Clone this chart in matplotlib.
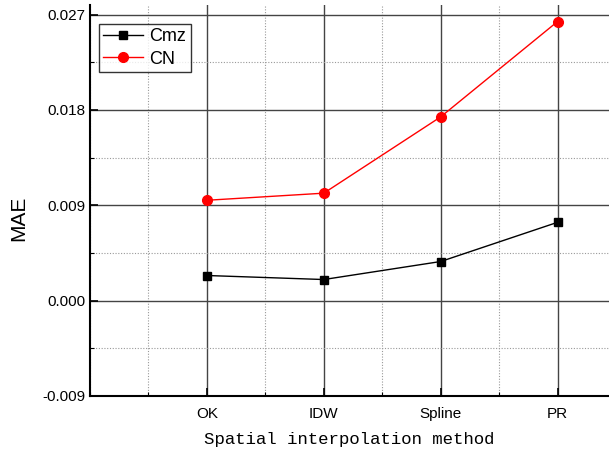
import matplotlib
matplotlib.use('Agg')
import matplotlib.pyplot as plt
from matplotlib.ticker import MultipleLocator

methods = ['OK', 'IDW', 'Spline', 'PR']
cmz = [0.00237, 0.00199, 0.00369, 0.00739]
cn = [0.00947, 0.01014, 0.01734, 0.02634]

plt.rcParams['font.family'] = ['Liberation Sans', 'DejaVu Sans']

fig = plt.figure(figsize=(6.09, 4.54), dpi=100)
ax = fig.add_axes([0.1478, 0.1278, 0.8522, 0.8612])

x = list(range(1, len(methods) + 1))
ax.plot(x, cmz, color='black', lw=1, marker='s', ms=5.8, label='Cmz', zorder=3)
ax.plot(x, cn, color='red', lw=1, marker='o', ms=7, label='CN', zorder=3)

ax.set_xlim(0, 4.44)
ax.set_ylim(-0.009, 0.0279)
ax.set_xticks(x)
ax.set_xticklabels(methods)
ax.xaxis.set_minor_locator(MultipleLocator(0.5))
ax.set_yticks([-0.009, 0.0, 0.009, 0.018, 0.027])
ax.set_yticklabels(['-0.009', '0.000', '0.009', '0.018', '0.027'])
ax.yaxis.set_minor_locator(MultipleLocator(0.0045))

ax.grid(which='major', color='#444444', lw=1, ls='-')
ax.grid(which='minor', color='#999999', lw=0.8, ls=(0, (1, 1.5)))
ax.set_axisbelow(True)

ax.tick_params(which='both', direction='in', labelsize=11, top=False, right=False)
ax.tick_params(which='major', length=6, width=1.2)
ax.tick_params(which='minor', length=3, width=0.8)
ax.tick_params(axis='x', pad=8)

for s in ['top', 'right']:
    ax.spines[s].set_visible(False)
for s in ['left', 'bottom']:
    ax.spines[s].set_linewidth(1.5)

ax.set_ylabel('MAE', fontsize=15)
ax.yaxis.set_label_coords(-0.119, 0.455)
ax.set_xlabel('Spatial interpolation method', fontsize=12.5,
              family=['Liberation Mono', 'DejaVu Sans Mono'], labelpad=8)

leg = ax.legend(loc='upper left', bbox_to_anchor=(0.017, 0.952), fontsize=13,
                frameon=True, fancybox=False, edgecolor='black',
                handlelength=2.2, borderpad=0.25, labelspacing=0.3,
                handletextpad=0.35, borderaxespad=0)
leg.get_frame().set_linewidth(1)

fig.savefig('out.png', dpi=100)
